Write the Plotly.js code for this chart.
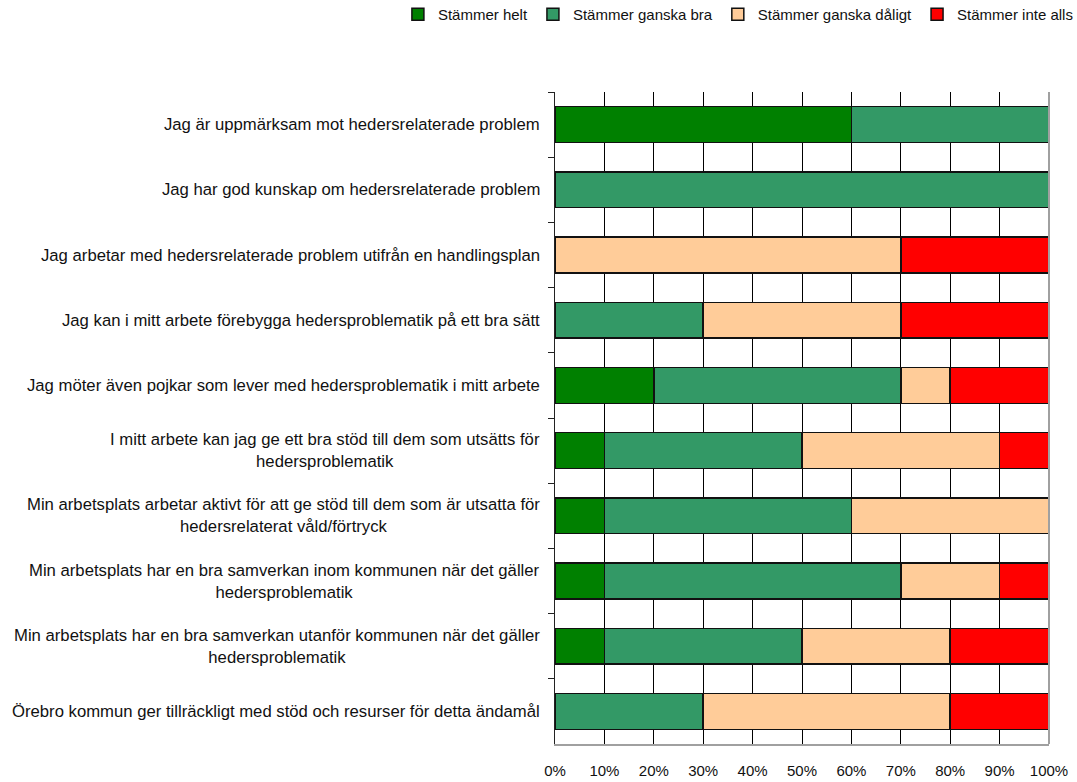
<!DOCTYPE html>
<html><head><meta charset="utf-8">
<script src="https://cdn.plot.ly/plotly-3.0.1.min.js"></script>
<style>body{margin:0;background:#fff}#chart{width:1077px;height:782px}</style>
</head><body><div id="chart"></div>
<script>
const categories = [
  "Jag är uppmärksam mot hedersrelaterade problem",
  "Jag har god kunskap om hedersrelaterade problem",
  "Jag arbetar med hedersrelaterade problem utifrån en handlingsplan",
  "Jag kan i mitt arbete förebygga hedersproblematik på ett bra sätt",
  "Jag möter även pojkar som lever med hedersproblematik i mitt arbete",
  "I mitt arbete kan jag ge ett bra stöd till dem som utsätts för<br>hedersproblematik",
  "Min arbetsplats arbetar aktivt för att ge stöd till dem som är utsatta för<br>hedersrelaterat våld/förtryck",
  "Min arbetsplats har en bra samverkan inom kommunen när det gäller<br>hedersproblematik",
  "Min arbetsplats har en bra samverkan utanför kommunen när det gäller<br>hedersproblematik",
  "Örebro kommun ger tillräckligt med stöd och resurser för detta ändamål"
];
const seriesNames = ["Stämmer helt", "Stämmer ganska bra", "Stämmer ganska dåligt", "Stämmer inte alls"];
const stammerHelt      = [60, 0, 0, 0, 20, 10, 10, 10, 10, 0];
const stammerGanskaBra = [40, 100, 0, 30, 50, 40, 50, 60, 40, 30];
const stammerGanskaDaligt = [0, 0, 70, 40, 10, 40, 40, 20, 30, 50];
const stammerInteAlls  = [0, 0, 30, 30, 20, 10, 0, 10, 20, 20];
const colors = ["#008000", "#339966", "#FFCC99", "#FF0000"];
const tickVals = [0,10,20,30,40,50,60,70,80,90,100];
const tickLabels = ["0%","10%","20%","30%","40%","50%","60%","70%","80%","90%","100%"];

const font = "Liberation Sans, Arial, sans-serif";
const seriesData = [stammerHelt, stammerGanskaBra, stammerGanskaDaligt, stammerInteAlls];
const ids = categories.map((c, i) => "c" + i);
const traces = seriesData.map((vals, k) => ({
  type: "bar", orientation: "h", name: seriesNames[k],
  y: ids, x: vals,
  marker: {color: colors[k], line: {color: "#111", width: 1.5}},
  hoverinfo: "skip"
}));

const annotations = categories.map((c, i) => ({
  xref: "paper", yref: "y", x: 0, y: ids[i], xshift: -13,
  xanchor: "right", yanchor: "middle", align: "center",
  text: c, showarrow: false,
  font: {family: font, size: 16.7, color: "#111"}
}));

const layout = {
  barmode: "stack", bargap: 0.45,
  width: 1077, height: 782,
  margin: {l: 555, r: 28, t: 92, b: 38, autoexpand: false},
  paper_bgcolor: "#fff", plot_bgcolor: "#fff",
  font: {family: font, size: 15, color: "#111"},
  showlegend: true,
  legend: {orientation: "h", xref: "paper", yref: "paper", x: -0.318, xanchor: "left", y: 1.144, yanchor: "top",
    font: {family: font, size: 15, color: "#111"}, itemwidth: 30, traceorder: "normal", tracegroupgap: 0},
  xaxis: {range: [0, 100], tickvals: tickVals, ticktext: tickLabels, showgrid: true, gridcolor: "#000", gridwidth: 1,
    zeroline: false, showline: true, linecolor: "#a0a0a0", linewidth: 2,
    tickfont: {family: font, size: 15, color: "#111"},
    ticks: "outside", ticklen: 12, tickcolor: "rgba(0,0,0,0)", fixedrange: true},
  yaxis: {type: "category", autorange: "reversed", showticklabels: false, showline: true, linecolor: "#222", linewidth: 1.5,
    ticks: "outside", tickson: "boundaries", ticklen: 6, tickcolor: "#222", showgrid: false, zeroline: false},
  shapes: [{type: "line", xref: "paper", yref: "paper", x0: 1, x1: 1, y0: 0, y1: 1, line: {color: "#a0a0a0", width: 2}}],
  annotations: annotations
};
Plotly.newPlot("chart", traces, layout, {displayModeBar: false, staticPlot: true});
</script></body></html>
